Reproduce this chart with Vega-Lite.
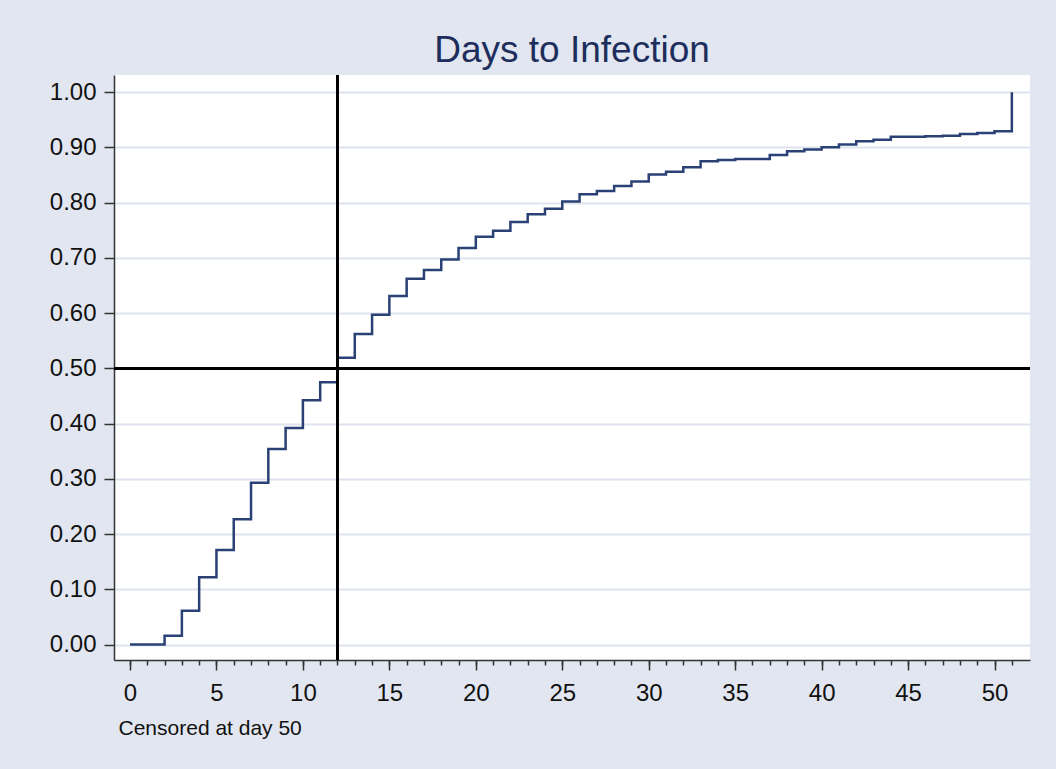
{
  "$schema": "https://vega.github.io/schema/vega-lite/v6.json",
  "autosize": {"type": "none"},
  "width": 916,
  "height": 585,
  "padding": {"left": 114, "top": 75, "right": 26, "bottom": 109},
  "background": "#E1E6F0",
  "config": {
    "font": "Liberation Sans",
    "view": {"stroke": null, "fill": "#FFFFFF"},
    "axis": {"labelFont": "Liberation Sans", "titleFont": "Liberation Sans"}
  },
  "title": {
    "text": "Days to Infection",
    "fontSize": 37,
    "font": "Liberation Sans",
    "fontWeight": "normal",
    "color": "#1E2E5C",
    "anchor": "middle",
    "offset": 4
  },
  "data": {
    "values": [
      {"day": 0, "surv": 0},
      {"day": 1, "surv": 0},
      {"day": 2, "surv": 0.016},
      {"day": 3, "surv": 0.061},
      {"day": 4, "surv": 0.122},
      {"day": 5, "surv": 0.171},
      {"day": 6, "surv": 0.227},
      {"day": 7, "surv": 0.293},
      {"day": 8, "surv": 0.354},
      {"day": 9, "surv": 0.392},
      {"day": 10, "surv": 0.442},
      {"day": 11, "surv": 0.475},
      {"day": 12, "surv": 0.519},
      {"day": 13, "surv": 0.562},
      {"day": 14, "surv": 0.597},
      {"day": 15, "surv": 0.631},
      {"day": 16, "surv": 0.662},
      {"day": 17, "surv": 0.678},
      {"day": 18, "surv": 0.697},
      {"day": 19, "surv": 0.718},
      {"day": 20, "surv": 0.738},
      {"day": 21, "surv": 0.749},
      {"day": 22, "surv": 0.765},
      {"day": 23, "surv": 0.779},
      {"day": 24, "surv": 0.789},
      {"day": 25, "surv": 0.802},
      {"day": 26, "surv": 0.815},
      {"day": 27, "surv": 0.821},
      {"day": 28, "surv": 0.830},
      {"day": 29, "surv": 0.838},
      {"day": 30, "surv": 0.851},
      {"day": 31, "surv": 0.856},
      {"day": 32, "surv": 0.864},
      {"day": 33, "surv": 0.875},
      {"day": 34, "surv": 0.877},
      {"day": 35, "surv": 0.879},
      {"day": 36, "surv": 0.879},
      {"day": 37, "surv": 0.886},
      {"day": 38, "surv": 0.893},
      {"day": 39, "surv": 0.896},
      {"day": 40, "surv": 0.900},
      {"day": 41, "surv": 0.905},
      {"day": 42, "surv": 0.911},
      {"day": 43, "surv": 0.914},
      {"day": 44, "surv": 0.919},
      {"day": 45, "surv": 0.919},
      {"day": 46, "surv": 0.920},
      {"day": 47, "surv": 0.921},
      {"day": 48, "surv": 0.924},
      {"day": 49, "surv": 0.926},
      {"day": 50, "surv": 0.929},
      {"day": 51, "surv": 1.0}
    ]
  },
  "resolve": {"axis": {"x": "independent"}},
  "layer": [
    {
      "mark": {"type": "line", "interpolate": "step-after", "color": "#2A4175", "strokeWidth": 2.5, "clip": true},
      "encoding": {
        "x": {
          "field": "day",
          "type": "quantitative",
          "scale": {"domain": [-0.925, 52.05], "nice": false, "zero": false},
          "axis": {
            "orient": "bottom",
            "values": [0, 5, 10, 15, 20, 25, 30, 35, 40, 45, 50],
            "grid": false,
            "domain": true,
            "domainColor": "#333333",
            "domainWidth": 1.5,
            "tickColor": "#333333",
            "tickWidth": 1.5,
            "tickSize": 10,
            "labelFontSize": 24,
            "labelColor": "#111111",
            "labelPadding": 11,
            "title": "Censored at day 50",
            "titleFontSize": 21,
            "titleFontWeight": "normal",
            "titleColor": "#111111",
            "titleAnchor": "start",
            "titleAlign": "left",
            "titleBaseline": "alphabetic",
            "titleX": 4,
            "titleY": 74
          }
        },
        "y": {
          "field": "surv",
          "type": "quantitative",
          "scale": {"domain": [-0.028, 1.031], "nice": false, "zero": false},
          "axis": {
            "values": [0, 0.1, 0.2, 0.3, 0.4, 0.5, 0.6, 0.7, 0.8, 0.9, 1.0],
            "format": ".2f",
            "grid": true,
            "gridColor": "#DEE3EE",
            "gridWidth": 2,
            "domain": true,
            "domainColor": "#333333",
            "domainWidth": 1.5,
            "tickColor": "#333333",
            "tickWidth": 1.5,
            "tickSize": 10,
            "labelFontSize": 24,
            "labelColor": "#111111",
            "labelPadding": 8,
            "title": null
          }
        }
      }
    },
    {
      "mark": {"type": "rule", "color": "#000000", "strokeWidth": 2},
      "encoding": {
        "x": {
          "datum": 12,
          "type": "quantitative",
          "axis": {
            "orient": "bottom",
            "values": [0,1,2,3,4,5,6,7,8,9,10,11,12,13,14,15,16,17,18,19,20,21,22,23,24,25,26,27,28,29,30,31,32,33,34,35,36,37,38,39,40,41,42,43,44,45,46,47,48,49,50,51],
            "grid": false,
            "domain": false,
            "labels": false,
            "tickColor": "#333333",
            "tickWidth": 1.5,
            "tickSize": 5,
            "title": null
          }
        }
      }
    },
    {
      "mark": {"type": "rule", "color": "#000000", "strokeWidth": 2},
      "encoding": {
        "y": {"datum": 0.5, "type": "quantitative"}
      }
    }
  ]
}
